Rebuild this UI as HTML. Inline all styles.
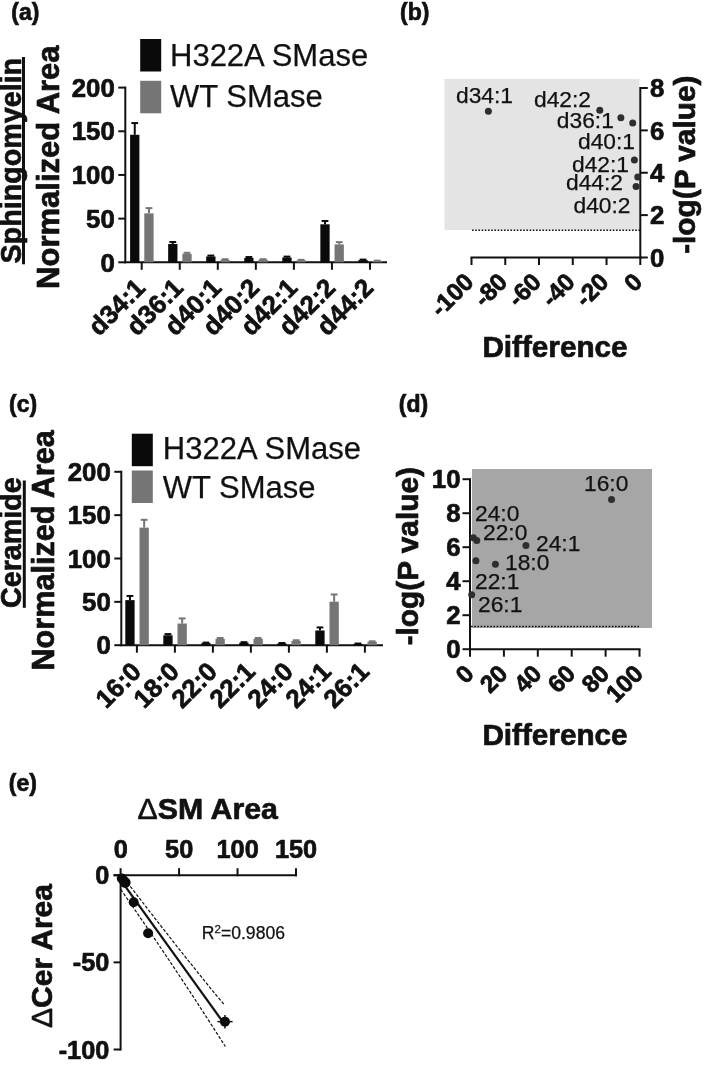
<!DOCTYPE html><html><head><meta charset="utf-8"><title>Figure</title><style>html,body{margin:0;padding:0;background:#fff}svg{display:block}text{font-family:"Liberation Sans", Arial, sans-serif;fill:#111;stroke:#111;stroke-width:0.25px}.b{font-weight:bold;stroke:#111;stroke-width:0.7px;stroke-linejoin:round}</style></head><body>
<svg width="709" height="1066" viewBox="0 0 709 1066">
<rect width="709" height="1066" fill="#fff"/>
<text x="11.3" y="19.6" font-size="23" class="b" text-anchor="start">(a)</text>
<line x1="125.30" y1="86.60" x2="125.30" y2="263.30" stroke="#111" stroke-width="2"/>
<line x1="118.30" y1="262.30" x2="125.30" y2="262.30" stroke="#111" stroke-width="2"/>
<text x="114.8" y="271.5" font-size="25.8" class="b" text-anchor="end">0</text>
<line x1="118.30" y1="218.62" x2="125.30" y2="218.62" stroke="#111" stroke-width="2"/>
<text x="114.8" y="227.825" font-size="25.8" class="b" text-anchor="end">50</text>
<line x1="118.30" y1="174.95" x2="125.30" y2="174.95" stroke="#111" stroke-width="2"/>
<text x="114.8" y="184.14999999999998" font-size="25.8" class="b" text-anchor="end">100</text>
<line x1="118.30" y1="131.28" x2="125.30" y2="131.28" stroke="#111" stroke-width="2"/>
<text x="114.8" y="140.475" font-size="25.8" class="b" text-anchor="end">150</text>
<line x1="118.30" y1="87.60" x2="125.30" y2="87.60" stroke="#111" stroke-width="2"/>
<text x="114.8" y="96.8" font-size="25.8" class="b" text-anchor="end">200</text>
<line x1="124.30" y1="262.30" x2="387.00" y2="262.30" stroke="#111" stroke-width="2"/>
<line x1="141.70" y1="262.30" x2="141.70" y2="269.80" stroke="#111" stroke-width="2"/>
<text x="146.7" y="289.3" font-size="25.8" class="b" text-anchor="end" transform="rotate(-45 146.7 289.3)">d34:1</text>
<rect x="130.10" y="134.77" width="9.30" height="127.53" fill="#0a0a0a"/>
<line x1="134.75" y1="134.77" x2="134.75" y2="123.06" stroke="#0a0a0a" stroke-width="2"/>
<line x1="131.35" y1="123.06" x2="138.15" y2="123.06" stroke="#0a0a0a" stroke-width="2"/>
<rect x="144.30" y="213.38" width="9.30" height="48.92" fill="#757575"/>
<line x1="148.95" y1="213.38" x2="148.95" y2="208.14" stroke="#757575" stroke-width="2"/>
<line x1="145.55" y1="208.14" x2="152.35" y2="208.14" stroke="#757575" stroke-width="2"/>
<line x1="179.75" y1="262.30" x2="179.75" y2="269.80" stroke="#111" stroke-width="2"/>
<text x="184.75" y="289.3" font-size="25.8" class="b" text-anchor="end" transform="rotate(-45 184.75 289.3)">d36:1</text>
<rect x="168.15" y="243.96" width="9.30" height="18.34" fill="#0a0a0a"/>
<line x1="172.80" y1="243.96" x2="172.80" y2="242.03" stroke="#0a0a0a" stroke-width="2"/>
<line x1="169.40" y1="242.03" x2="176.20" y2="242.03" stroke="#0a0a0a" stroke-width="2"/>
<rect x="182.35" y="253.83" width="9.30" height="8.47" fill="#757575"/>
<line x1="187.00" y1="253.83" x2="187.00" y2="252.78" stroke="#757575" stroke-width="2"/>
<line x1="183.60" y1="252.78" x2="190.40" y2="252.78" stroke="#757575" stroke-width="2"/>
<line x1="217.80" y1="262.30" x2="217.80" y2="269.80" stroke="#111" stroke-width="2"/>
<text x="222.79999999999998" y="289.3" font-size="25.8" class="b" text-anchor="end" transform="rotate(-45 222.79999999999998 289.3)">d40:1</text>
<rect x="206.20" y="256.45" width="9.30" height="5.85" fill="#0a0a0a"/>
<line x1="210.85" y1="256.45" x2="210.85" y2="255.57" stroke="#0a0a0a" stroke-width="2"/>
<line x1="207.45" y1="255.57" x2="214.25" y2="255.57" stroke="#0a0a0a" stroke-width="2"/>
<rect x="220.40" y="259.77" width="9.30" height="2.53" fill="#757575"/>
<line x1="225.05" y1="259.77" x2="225.05" y2="259.24" stroke="#757575" stroke-width="2"/>
<line x1="221.65" y1="259.24" x2="228.45" y2="259.24" stroke="#757575" stroke-width="2"/>
<line x1="255.85" y1="262.30" x2="255.85" y2="269.80" stroke="#111" stroke-width="2"/>
<text x="260.84999999999997" y="289.3" font-size="25.8" class="b" text-anchor="end" transform="rotate(-45 260.84999999999997 289.3)">d40:2</text>
<rect x="244.25" y="257.93" width="9.30" height="4.37" fill="#0a0a0a"/>
<line x1="248.90" y1="257.93" x2="248.90" y2="257.06" stroke="#0a0a0a" stroke-width="2"/>
<line x1="245.50" y1="257.06" x2="252.30" y2="257.06" stroke="#0a0a0a" stroke-width="2"/>
<rect x="258.45" y="259.68" width="9.30" height="2.62" fill="#757575"/>
<line x1="263.10" y1="259.68" x2="263.10" y2="259.24" stroke="#757575" stroke-width="2"/>
<line x1="259.70" y1="259.24" x2="266.50" y2="259.24" stroke="#757575" stroke-width="2"/>
<line x1="293.90" y1="262.30" x2="293.90" y2="269.80" stroke="#111" stroke-width="2"/>
<text x="298.9" y="289.3" font-size="25.8" class="b" text-anchor="end" transform="rotate(-45 298.9 289.3)">d42:1</text>
<rect x="282.30" y="257.50" width="9.30" height="4.80" fill="#0a0a0a"/>
<line x1="286.95" y1="257.50" x2="286.95" y2="256.62" stroke="#0a0a0a" stroke-width="2"/>
<line x1="283.55" y1="256.62" x2="290.35" y2="256.62" stroke="#0a0a0a" stroke-width="2"/>
<rect x="296.50" y="260.29" width="9.30" height="2.01" fill="#757575"/>
<line x1="301.15" y1="260.29" x2="301.15" y2="259.85" stroke="#757575" stroke-width="2"/>
<line x1="297.75" y1="259.85" x2="304.55" y2="259.85" stroke="#757575" stroke-width="2"/>
<line x1="331.95" y1="262.30" x2="331.95" y2="269.80" stroke="#111" stroke-width="2"/>
<text x="336.95" y="289.3" font-size="25.8" class="b" text-anchor="end" transform="rotate(-45 336.95 289.3)">d42:2</text>
<rect x="320.35" y="224.30" width="9.30" height="38.00" fill="#0a0a0a"/>
<line x1="325.00" y1="224.30" x2="325.00" y2="220.98" stroke="#0a0a0a" stroke-width="2"/>
<line x1="321.60" y1="220.98" x2="328.40" y2="220.98" stroke="#0a0a0a" stroke-width="2"/>
<rect x="334.55" y="244.39" width="9.30" height="17.91" fill="#757575"/>
<line x1="339.20" y1="244.39" x2="339.20" y2="242.12" stroke="#757575" stroke-width="2"/>
<line x1="335.80" y1="242.12" x2="342.60" y2="242.12" stroke="#757575" stroke-width="2"/>
<line x1="370.00" y1="262.30" x2="370.00" y2="269.80" stroke="#111" stroke-width="2"/>
<text x="375.0" y="289.3" font-size="25.8" class="b" text-anchor="end" transform="rotate(-45 375.0 289.3)">d44:2</text>
<rect x="358.40" y="260.12" width="9.30" height="2.18" fill="#0a0a0a"/>
<line x1="363.05" y1="260.12" x2="363.05" y2="259.59" stroke="#0a0a0a" stroke-width="2"/>
<line x1="359.65" y1="259.59" x2="366.45" y2="259.59" stroke="#0a0a0a" stroke-width="2"/>
<rect x="372.60" y="260.99" width="9.30" height="1.31" fill="#757575"/>
<line x1="377.25" y1="260.99" x2="377.25" y2="260.64" stroke="#757575" stroke-width="2"/>
<line x1="373.85" y1="260.64" x2="380.65" y2="260.64" stroke="#757575" stroke-width="2"/>
<text x="20.7" y="263.5" font-size="28.7" class="b" text-anchor="start" transform="rotate(-90 20.7 263.5)">Sphingomyelin</text>
<text x="58.9" y="288.9" font-size="31" class="b" text-anchor="start" transform="rotate(-90 58.9 288.9)">Normalized Area</text>
<rect x="140.20" y="39.00" width="21.00" height="32.50" fill="#0a0a0a"/>
<rect x="140.20" y="80.80" width="21.00" height="32.50" fill="#757575"/>
<text x="170" y="66" font-size="31" text-anchor="start">H322A SMase</text>
<text x="170" y="107" font-size="31" text-anchor="start">WT SMase</text>
<line x1="23.50" y1="57.00" x2="23.50" y2="264.30" stroke="#111" stroke-width="3"/>
<text x="9" y="412" font-size="23" class="b" text-anchor="start">(c)</text>
<line x1="121.30" y1="470.80" x2="121.30" y2="646.20" stroke="#111" stroke-width="2"/>
<line x1="114.30" y1="645.20" x2="121.30" y2="645.20" stroke="#111" stroke-width="2"/>
<text x="110.8" y="654.4000000000001" font-size="25.8" class="b" text-anchor="end">0</text>
<line x1="114.30" y1="601.85" x2="121.30" y2="601.85" stroke="#111" stroke-width="2"/>
<text x="110.8" y="611.0500000000001" font-size="25.8" class="b" text-anchor="end">50</text>
<line x1="114.30" y1="558.50" x2="121.30" y2="558.50" stroke="#111" stroke-width="2"/>
<text x="110.8" y="567.7" font-size="25.8" class="b" text-anchor="end">100</text>
<line x1="114.30" y1="515.15" x2="121.30" y2="515.15" stroke="#111" stroke-width="2"/>
<text x="110.8" y="524.35" font-size="25.8" class="b" text-anchor="end">150</text>
<line x1="114.30" y1="471.80" x2="121.30" y2="471.80" stroke="#111" stroke-width="2"/>
<text x="110.8" y="481.0" font-size="25.8" class="b" text-anchor="end">200</text>
<line x1="120.30" y1="645.20" x2="383.00" y2="645.20" stroke="#111" stroke-width="2"/>
<line x1="136.90" y1="645.20" x2="136.90" y2="652.70" stroke="#111" stroke-width="2"/>
<text x="142.70000000000002" y="673.0" font-size="25.8" class="b" text-anchor="end" transform="rotate(-45 142.70000000000002 673.0)">16:0</text>
<rect x="125.30" y="600.12" width="9.30" height="45.08" fill="#0a0a0a"/>
<line x1="129.95" y1="600.12" x2="129.95" y2="595.95" stroke="#0a0a0a" stroke-width="2"/>
<line x1="126.55" y1="595.95" x2="133.35" y2="595.95" stroke="#0a0a0a" stroke-width="2"/>
<rect x="139.50" y="527.63" width="9.30" height="117.57" fill="#757575"/>
<line x1="144.15" y1="527.63" x2="144.15" y2="519.83" stroke="#757575" stroke-width="2"/>
<line x1="140.75" y1="519.83" x2="147.55" y2="519.83" stroke="#757575" stroke-width="2"/>
<line x1="174.90" y1="645.20" x2="174.90" y2="652.70" stroke="#111" stroke-width="2"/>
<text x="180.70000000000002" y="673.0" font-size="25.8" class="b" text-anchor="end" transform="rotate(-45 180.70000000000002 673.0)">18:0</text>
<rect x="163.30" y="635.32" width="9.30" height="9.88" fill="#0a0a0a"/>
<line x1="167.95" y1="635.32" x2="167.95" y2="634.10" stroke="#0a0a0a" stroke-width="2"/>
<line x1="164.55" y1="634.10" x2="171.35" y2="634.10" stroke="#0a0a0a" stroke-width="2"/>
<rect x="177.50" y="623.53" width="9.30" height="21.68" fill="#757575"/>
<line x1="182.15" y1="623.53" x2="182.15" y2="618.41" stroke="#757575" stroke-width="2"/>
<line x1="178.75" y1="618.41" x2="185.55" y2="618.41" stroke="#757575" stroke-width="2"/>
<line x1="212.90" y1="645.20" x2="212.90" y2="652.70" stroke="#111" stroke-width="2"/>
<text x="218.70000000000002" y="673.0" font-size="25.8" class="b" text-anchor="end" transform="rotate(-45 218.70000000000002 673.0)">22:0</text>
<rect x="201.30" y="643.12" width="9.30" height="2.08" fill="#0a0a0a"/>
<line x1="205.95" y1="643.12" x2="205.95" y2="642.60" stroke="#0a0a0a" stroke-width="2"/>
<line x1="202.55" y1="642.60" x2="209.35" y2="642.60" stroke="#0a0a0a" stroke-width="2"/>
<rect x="215.50" y="638.87" width="9.30" height="6.33" fill="#757575"/>
<line x1="220.15" y1="638.87" x2="220.15" y2="638.00" stroke="#757575" stroke-width="2"/>
<line x1="216.75" y1="638.00" x2="223.55" y2="638.00" stroke="#757575" stroke-width="2"/>
<line x1="250.90" y1="645.20" x2="250.90" y2="652.70" stroke="#111" stroke-width="2"/>
<text x="256.7" y="673.0" font-size="25.8" class="b" text-anchor="end" transform="rotate(-45 256.7 673.0)">22:1</text>
<rect x="239.30" y="642.69" width="9.30" height="2.51" fill="#0a0a0a"/>
<line x1="243.95" y1="642.69" x2="243.95" y2="642.17" stroke="#0a0a0a" stroke-width="2"/>
<line x1="240.55" y1="642.17" x2="247.35" y2="642.17" stroke="#0a0a0a" stroke-width="2"/>
<rect x="253.50" y="638.87" width="9.30" height="6.33" fill="#757575"/>
<line x1="258.15" y1="638.87" x2="258.15" y2="638.00" stroke="#757575" stroke-width="2"/>
<line x1="254.75" y1="638.00" x2="261.55" y2="638.00" stroke="#757575" stroke-width="2"/>
<line x1="288.90" y1="645.20" x2="288.90" y2="652.70" stroke="#111" stroke-width="2"/>
<text x="294.7" y="673.0" font-size="25.8" class="b" text-anchor="end" transform="rotate(-45 294.7 673.0)">24:0</text>
<rect x="277.30" y="643.47" width="9.30" height="1.73" fill="#0a0a0a"/>
<line x1="281.95" y1="643.47" x2="281.95" y2="643.03" stroke="#0a0a0a" stroke-width="2"/>
<line x1="278.55" y1="643.03" x2="285.35" y2="643.03" stroke="#0a0a0a" stroke-width="2"/>
<rect x="291.50" y="640.95" width="9.30" height="4.25" fill="#757575"/>
<line x1="296.15" y1="640.95" x2="296.15" y2="640.26" stroke="#757575" stroke-width="2"/>
<line x1="292.75" y1="640.26" x2="299.55" y2="640.26" stroke="#757575" stroke-width="2"/>
<line x1="326.90" y1="645.20" x2="326.90" y2="652.70" stroke="#111" stroke-width="2"/>
<text x="332.7" y="673.0" font-size="25.8" class="b" text-anchor="end" transform="rotate(-45 332.7 673.0)">24:1</text>
<rect x="315.30" y="630.46" width="9.30" height="14.74" fill="#0a0a0a"/>
<line x1="319.95" y1="630.46" x2="319.95" y2="627.43" stroke="#0a0a0a" stroke-width="2"/>
<line x1="316.55" y1="627.43" x2="323.35" y2="627.43" stroke="#0a0a0a" stroke-width="2"/>
<rect x="329.50" y="601.68" width="9.30" height="43.52" fill="#757575"/>
<line x1="334.15" y1="601.68" x2="334.15" y2="594.48" stroke="#757575" stroke-width="2"/>
<line x1="330.75" y1="594.48" x2="337.55" y2="594.48" stroke="#757575" stroke-width="2"/>
<line x1="364.90" y1="645.20" x2="364.90" y2="652.70" stroke="#111" stroke-width="2"/>
<text x="370.7" y="673.0" font-size="25.8" class="b" text-anchor="end" transform="rotate(-45 370.7 673.0)">26:1</text>
<rect x="353.30" y="643.90" width="9.30" height="1.30" fill="#0a0a0a"/>
<line x1="357.95" y1="643.90" x2="357.95" y2="643.55" stroke="#0a0a0a" stroke-width="2"/>
<line x1="354.55" y1="643.55" x2="361.35" y2="643.55" stroke="#0a0a0a" stroke-width="2"/>
<rect x="367.50" y="641.82" width="9.30" height="3.38" fill="#757575"/>
<line x1="372.15" y1="641.82" x2="372.15" y2="641.30" stroke="#757575" stroke-width="2"/>
<line x1="368.75" y1="641.30" x2="375.55" y2="641.30" stroke="#757575" stroke-width="2"/>
<text x="21.2" y="608" font-size="28.7" class="b" text-anchor="start" transform="rotate(-90 21.2 608)">Ceramide</text>
<text x="54.2" y="670.5" font-size="30.6" class="b" text-anchor="start" transform="rotate(-90 54.2 670.5)">Normalized Area</text>
<rect x="131.80" y="433.70" width="21.00" height="32.50" fill="#0a0a0a"/>
<rect x="131.80" y="470.50" width="21.00" height="32.50" fill="#757575"/>
<text x="162.8" y="459" font-size="31" text-anchor="start">H322A SMase</text>
<text x="162.8" y="497.5" font-size="31" text-anchor="start">WT SMase</text>
<line x1="24.30" y1="480.50" x2="24.30" y2="607.80" stroke="#111" stroke-width="3"/>
<text x="400" y="19.6" font-size="23" class="b" text-anchor="start">(b)</text>
<rect x="444.50" y="79.00" width="195.00" height="151.00" fill="#e4e4e4"/>
<line x1="640.30" y1="87.00" x2="640.30" y2="258.50" stroke="#111" stroke-width="2"/>
<line x1="640.30" y1="257.50" x2="647.80" y2="257.50" stroke="#111" stroke-width="2"/>
<text x="650.0999999999999" y="266.7" font-size="25.8" class="b" text-anchor="start">0</text>
<line x1="640.30" y1="215.12" x2="647.80" y2="215.12" stroke="#111" stroke-width="2"/>
<text x="650.0999999999999" y="224.325" font-size="25.8" class="b" text-anchor="start">2</text>
<line x1="640.30" y1="172.75" x2="647.80" y2="172.75" stroke="#111" stroke-width="2"/>
<text x="650.0999999999999" y="181.95" font-size="25.8" class="b" text-anchor="start">4</text>
<line x1="640.30" y1="130.38" x2="647.80" y2="130.38" stroke="#111" stroke-width="2"/>
<text x="650.0999999999999" y="139.575" font-size="25.8" class="b" text-anchor="start">6</text>
<line x1="640.30" y1="88.00" x2="647.80" y2="88.00" stroke="#111" stroke-width="2"/>
<text x="650.0999999999999" y="97.2" font-size="25.8" class="b" text-anchor="start">8</text>
<line x1="470.50" y1="257.50" x2="641.30" y2="257.50" stroke="#111" stroke-width="2"/>
<line x1="471.50" y1="257.50" x2="471.50" y2="265.00" stroke="#111" stroke-width="2"/>
<text x="475.0" y="283.5" font-size="24.3" class="b" text-anchor="end" transform="rotate(-45 475.0 283.5)">-100</text>
<line x1="505.26" y1="257.50" x2="505.26" y2="265.00" stroke="#111" stroke-width="2"/>
<text x="508.76" y="283.5" font-size="24.3" class="b" text-anchor="end" transform="rotate(-45 508.76 283.5)">-80</text>
<line x1="539.02" y1="257.50" x2="539.02" y2="265.00" stroke="#111" stroke-width="2"/>
<text x="542.52" y="283.5" font-size="24.3" class="b" text-anchor="end" transform="rotate(-45 542.52 283.5)">-60</text>
<line x1="572.78" y1="257.50" x2="572.78" y2="265.00" stroke="#111" stroke-width="2"/>
<text x="576.28" y="283.5" font-size="24.3" class="b" text-anchor="end" transform="rotate(-45 576.28 283.5)">-40</text>
<line x1="606.54" y1="257.50" x2="606.54" y2="265.00" stroke="#111" stroke-width="2"/>
<text x="610.04" y="283.5" font-size="24.3" class="b" text-anchor="end" transform="rotate(-45 610.04 283.5)">-20</text>
<line x1="640.30" y1="257.50" x2="640.30" y2="265.00" stroke="#111" stroke-width="2"/>
<text x="643.8" y="283.5" font-size="24.3" class="b" text-anchor="end" transform="rotate(-45 643.8 283.5)">0</text>
<line x1="472.00" y1="230.30" x2="640.00" y2="230.30" stroke="#111" stroke-width="1.6" stroke-dasharray="1.6 1.6"/>
<circle cx="488.38" cy="111.31" r="3.5" fill="#2e2e2e"/>
<text x="456" y="103" font-size="22.8" text-anchor="start" fill="#2e2e2e">d34:1</text>
<circle cx="599.79" cy="110.25" r="3.5" fill="#2e2e2e"/>
<text x="534" y="106.5" font-size="22.8" text-anchor="start" fill="#2e2e2e">d42:2</text>
<circle cx="620.89" cy="117.66" r="3.5" fill="#2e2e2e"/>
<text x="556.8" y="127.8" font-size="22.8" text-anchor="start" fill="#2e2e2e">d36:1</text>
<circle cx="632.70" cy="122.96" r="3.5" fill="#2e2e2e"/>
<text x="578" y="148.5" font-size="22.8" text-anchor="start" fill="#2e2e2e">d40:1</text>
<circle cx="634.39" cy="160.04" r="3.5" fill="#2e2e2e"/>
<text x="572" y="172" font-size="22.8" text-anchor="start" fill="#2e2e2e">d42:1</text>
<circle cx="637.77" cy="176.99" r="3.5" fill="#2e2e2e"/>
<text x="566" y="190" font-size="22.8" text-anchor="start" fill="#2e2e2e">d44:2</text>
<circle cx="636.08" cy="186.52" r="3.5" fill="#2e2e2e"/>
<text x="573.5" y="212.5" font-size="22.8" text-anchor="start" fill="#2e2e2e">d40:2</text>
<text x="555" y="356.8" font-size="29.7" class="b" text-anchor="middle">Difference</text>
<text x="695.2" y="164.7" font-size="29.8" class="b" text-anchor="middle" transform="rotate(-90 695.2 164.7)">-log(P value)</text>
<text x="398.8" y="411.8" font-size="23" class="b" text-anchor="start">(d)</text>
<rect x="472.00" y="469.00" width="180.00" height="159.00" fill="#a6a6a6"/>
<line x1="470.00" y1="478.20" x2="470.00" y2="650.20" stroke="#111" stroke-width="2"/>
<line x1="462.50" y1="649.20" x2="470.00" y2="649.20" stroke="#111" stroke-width="2"/>
<text x="460.5" y="658.4000000000001" font-size="25.8" class="b" text-anchor="end">0</text>
<line x1="462.50" y1="615.20" x2="470.00" y2="615.20" stroke="#111" stroke-width="2"/>
<text x="460.5" y="624.4000000000001" font-size="25.8" class="b" text-anchor="end">2</text>
<line x1="462.50" y1="581.20" x2="470.00" y2="581.20" stroke="#111" stroke-width="2"/>
<text x="460.5" y="590.4000000000001" font-size="25.8" class="b" text-anchor="end">4</text>
<line x1="462.50" y1="547.20" x2="470.00" y2="547.20" stroke="#111" stroke-width="2"/>
<text x="460.5" y="556.4000000000001" font-size="25.8" class="b" text-anchor="end">6</text>
<line x1="462.50" y1="513.20" x2="470.00" y2="513.20" stroke="#111" stroke-width="2"/>
<text x="460.5" y="522.4000000000001" font-size="25.8" class="b" text-anchor="end">8</text>
<line x1="462.50" y1="479.20" x2="470.00" y2="479.20" stroke="#111" stroke-width="2"/>
<text x="460.5" y="488.4" font-size="25.8" class="b" text-anchor="end">10</text>
<line x1="469.00" y1="649.20" x2="640.50" y2="649.20" stroke="#111" stroke-width="2"/>
<line x1="470.00" y1="649.20" x2="470.00" y2="656.70" stroke="#111" stroke-width="2"/>
<text x="475.2" y="675.2" font-size="24.3" class="b" text-anchor="end" transform="rotate(-45 475.2 675.2)">0</text>
<line x1="503.90" y1="649.20" x2="503.90" y2="656.70" stroke="#111" stroke-width="2"/>
<text x="509.09999999999997" y="675.2" font-size="24.3" class="b" text-anchor="end" transform="rotate(-45 509.09999999999997 675.2)">20</text>
<line x1="537.80" y1="649.20" x2="537.80" y2="656.70" stroke="#111" stroke-width="2"/>
<text x="543.0" y="675.2" font-size="24.3" class="b" text-anchor="end" transform="rotate(-45 543.0 675.2)">40</text>
<line x1="571.70" y1="649.20" x2="571.70" y2="656.70" stroke="#111" stroke-width="2"/>
<text x="576.9000000000001" y="675.2" font-size="24.3" class="b" text-anchor="end" transform="rotate(-45 576.9000000000001 675.2)">60</text>
<line x1="605.60" y1="649.20" x2="605.60" y2="656.70" stroke="#111" stroke-width="2"/>
<text x="610.8000000000001" y="675.2" font-size="24.3" class="b" text-anchor="end" transform="rotate(-45 610.8000000000001 675.2)">80</text>
<line x1="639.50" y1="649.20" x2="639.50" y2="656.70" stroke="#111" stroke-width="2"/>
<text x="644.7" y="675.2" font-size="24.3" class="b" text-anchor="end" transform="rotate(-45 644.7 675.2)">100</text>
<line x1="471.00" y1="626.50" x2="639.00" y2="626.50" stroke="#111" stroke-width="1.6" stroke-dasharray="1.6 1.6"/>
<circle cx="611.53" cy="499.60" r="3.5" fill="#2e2e2e"/>
<text x="584" y="490.5" font-size="22.8" text-anchor="start" fill="#2e2e2e">16:0</text>
<circle cx="473.39" cy="537.85" r="3.5" fill="#2e2e2e"/>
<text x="475" y="520.5" font-size="22.8" text-anchor="start" fill="#2e2e2e">24:0</text>
<circle cx="476.78" cy="540.40" r="3.5" fill="#2e2e2e"/>
<text x="483" y="539.5" font-size="22.8" text-anchor="start" fill="#2e2e2e">22:0</text>
<circle cx="525.93" cy="545.50" r="3.5" fill="#2e2e2e"/>
<text x="536" y="550.5" font-size="22.8" text-anchor="start" fill="#2e2e2e">24:1</text>
<circle cx="495.43" cy="564.20" r="3.5" fill="#2e2e2e"/>
<text x="505" y="569.5" font-size="22.8" text-anchor="start" fill="#2e2e2e">18:0</text>
<circle cx="475.93" cy="560.80" r="3.5" fill="#2e2e2e"/>
<text x="475" y="588.5" font-size="22.8" text-anchor="start" fill="#2e2e2e">22:1</text>
<circle cx="471.69" cy="594.80" r="3.5" fill="#2e2e2e"/>
<text x="478" y="612" font-size="22.8" text-anchor="start" fill="#2e2e2e">26:1</text>
<text x="555" y="744.5" font-size="29.7" class="b" text-anchor="middle">Difference</text>
<text x="417.6" y="556.2" font-size="29.8" class="b" text-anchor="middle" transform="rotate(-90 417.6 556.2)">-log(P value)</text>
<text x="8.8" y="791.4" font-size="23" class="b" text-anchor="start">(e)</text>
<text x="207.8" y="819.2" font-size="30.3" text-anchor="middle" class="b"><tspan font-weight="normal" stroke-width="0.6">Δ</tspan>SM Area</text>
<line x1="113.60" y1="875.20" x2="297.00" y2="875.20" stroke="#111" stroke-width="2"/>
<line x1="120.60" y1="868.20" x2="120.60" y2="875.20" stroke="#111" stroke-width="2"/>
<text x="120.69999999999999" y="858.0" font-size="25.3" class="b" text-anchor="middle">0</text>
<line x1="179.07" y1="868.20" x2="179.07" y2="876.20" stroke="#111" stroke-width="2"/>
<text x="179.16666666666666" y="858.0" font-size="25.3" class="b" text-anchor="middle">50</text>
<line x1="237.53" y1="868.20" x2="237.53" y2="876.20" stroke="#111" stroke-width="2"/>
<text x="237.63333333333333" y="858.0" font-size="25.3" class="b" text-anchor="middle">100</text>
<line x1="296.00" y1="868.20" x2="296.00" y2="876.20" stroke="#111" stroke-width="2"/>
<text x="296.1" y="858.0" font-size="25.3" class="b" text-anchor="middle">150</text>
<line x1="120.60" y1="874.20" x2="120.60" y2="1050.50" stroke="#111" stroke-width="2"/>
<line x1="113.60" y1="875.20" x2="120.60" y2="875.20" stroke="#111" stroke-width="2"/>
<text x="109.3" y="884.2" font-size="25.3" class="b" text-anchor="end">0</text>
<line x1="113.60" y1="962.35" x2="120.60" y2="962.35" stroke="#111" stroke-width="2"/>
<text x="109.3" y="971.35" font-size="25.3" class="b" text-anchor="end">-50</text>
<line x1="113.60" y1="1049.50" x2="120.60" y2="1049.50" stroke="#111" stroke-width="2"/>
<text x="109.3" y="1058.5" font-size="25.3" class="b" text-anchor="end">-100</text>
<text x="52.4" y="1028" font-size="30" class="b" transform="rotate(-90 52.4 1028)"><tspan font-weight="normal" stroke-width="0.6">Δ</tspan>Cer Area</text>
<line x1="121.50" y1="881.10" x2="222.50" y2="1021.40" stroke="#111" stroke-width="2.2"/>
<path d="M130.3 886.4 Q190 964 224.7 1005.3" fill="none" stroke="#111" stroke-width="1.2" stroke-dasharray="3.2 1.7"/>
<path d="M120.7 889.3 Q178.6 972.7 225.3 1046.5" fill="none" stroke="#111" stroke-width="1.2" stroke-dasharray="3.2 1.7"/>
<circle cx="121.80" cy="878.50" r="5" fill="#0c0c0c"/>
<circle cx="123.50" cy="880.50" r="5" fill="#0c0c0c"/>
<circle cx="125.20" cy="882.50" r="5.4" fill="#0c0c0c"/>
<circle cx="133.70" cy="902.20" r="5" fill="#0c0c0c"/>
<circle cx="148.10" cy="933.30" r="5" fill="#0c0c0c"/>
<circle cx="224.95" cy="1021.65" r="5" fill="#0c0c0c"/>
<line x1="217.40" y1="1021.65" x2="232.60" y2="1021.65" stroke="#111" stroke-width="1.5"/>
<line x1="224.95" y1="1014.90" x2="224.95" y2="1028.40" stroke="#111" stroke-width="1.5"/>
<text x="201.8" y="939.2" font-size="17.6" fill="#222" stroke="none">R<tspan dy="-6.7" font-size="11.5">2</tspan><tspan dy="6.7">=0.9806</tspan></text>
</svg></body></html>
